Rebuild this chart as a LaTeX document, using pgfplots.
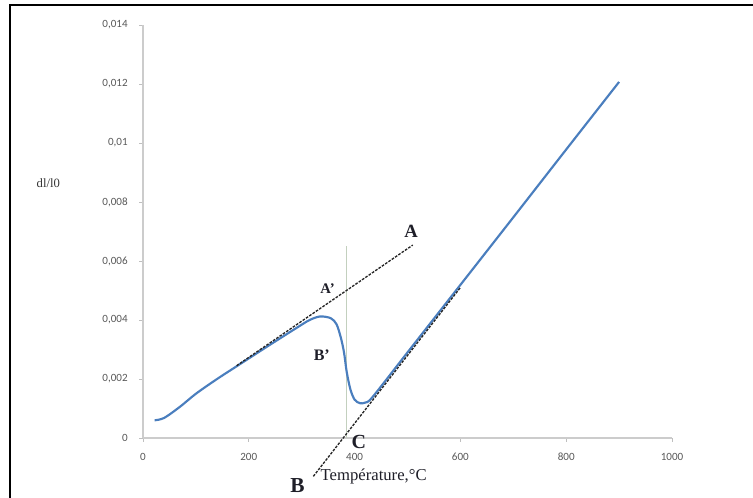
\documentclass[border=0pt]{standalone}
\usepackage{pgfplots}
\pgfplotsset{compat=1.18}
\usepackage{fontspec}
\setmainfont{Liberation Serif}
\newfontfamily\tickfont{Carlito}
\definecolor{curveblue}{RGB}{74,126,190}
\definecolor{vline}{RGB}{195,208,190}
\definecolor{lbl}{RGB}{30,30,40}
\begin{document}
\begin{tikzpicture}
\useasboundingbox (0,0) rectangle (564.75pt,373.5pt);
\fill[white] (0,0) rectangle (564.75pt,373.5pt);
\draw[line width=2.2pt] (7.5pt,0) -- (7.5pt,369.75pt) -- (564.75pt,369.75pt);
\begin{axis}[
  at={(107.25pt,45pt)}, anchor=south west,
  scale only axis, width=396.75pt, height=309.75pt,
  xmin=0, xmax=1000, ymin=0, ymax=0.014,
  clip=false, scaled y ticks=false, scaled x ticks=false,
  axis x line*=bottom, axis y line*=left,
  axis line style={draw=black!20, line width=0.8pt},
  tick style={draw=black!25, line width=0.6pt},
  tick align=outside, major tick length=3pt,
  xtick={0,200,400,600,800,1000},
  ytick={0,0.002,0.004,0.006,0.008,0.01,0.012,0.014},
  yticklabels={0,{0,002},{0,004},{0,006},{0,008},{0,01},{0,012},{0,014}},
  xticklabels={0,200,400,600,800,1000},
  ticklabel style={font=\tickfont\fontsize{8.3}{10}\selectfont, text=black!65},
  yticklabel style={xshift=-5pt},
  xticklabel style={yshift=-5pt},
]
% vertical line
\addplot[vline, line width=1.1pt] coordinates {(385,0) (385,0.0065)};
% main curve
\addplot[curveblue, line width=1.6pt, smooth, tension=0.5] coordinates {
(22,0.00060) (40,0.00068) (70,0.00106) (100,0.00150) (140,0.00200)
(183,0.00250) (240,0.00316) (291,0.00374) (315,0.00400) (335,0.00412)
(355,0.00406) (366,0.00385) (374,0.00340) (380,0.00290) (385,0.00225)
(392,0.00165) (400,0.00130) (410,0.00118) (420,0.00120) (434,0.00139)
(500,0.00290) (600,0.00519) (700,0.00748) (800,0.00978) (900,0.01207)};
% tangent A'A
\addplot[black!85, line width=1pt, dash pattern=on 2pt off 1pt] coordinates {(177,0.00245) (510,0.00654)};
% tangent BC
\addplot[black!85, line width=1pt, dash pattern=on 2pt off 1pt] coordinates {(322,-0.00130) (600,0.00510)};
% labels
\node[lbl, font=\bfseries\fontsize{14}{16}\selectfont] at (axis cs:507,0.00700) {A};
\node[lbl, font=\bfseries\fontsize{11}{13}\selectfont] at (axis cs:349,0.00508) {A'};
\node[lbl, font=\bfseries\fontsize{12}{14}\selectfont] at (axis cs:338,0.00281) {B'};
\node[lbl, font=\bfseries\fontsize{15}{17}\selectfont] at (axis cs:408,-0.00014) {C};
\node[lbl, font=\fontsize{12.5}{14}\selectfont] at (axis cs:436,-0.00132) {Température,°C};
\node[lbl, font=\bfseries\fontsize{16}{18}\selectfont] at (axis cs:292,-0.00162) {B};
\node[black!80, font=\fontsize{9.5}{11}\selectfont] at (axis cs:-179,0.00864) {dl/l0};
\end{axis}
\end{tikzpicture}
\end{document}
